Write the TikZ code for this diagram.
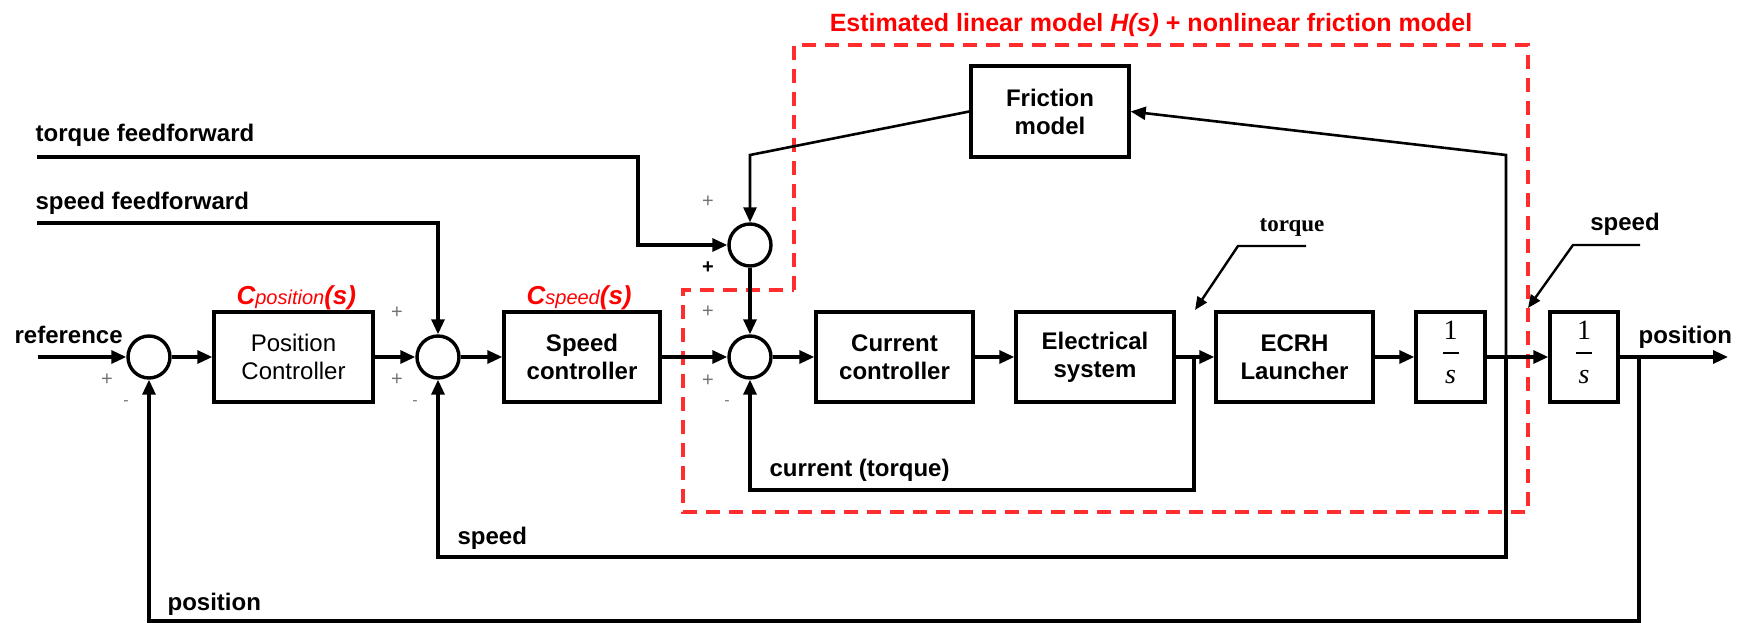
\documentclass[tikz,border=0pt]{standalone}
\usepackage{fontspec}
\setmainfont{Liberation Sans}
\newfontfamily\serifface{Liberation Serif}
\usetikzlibrary{arrows.meta,calc}
\definecolor{dashred}{RGB}{255,45,45}
\begin{document}
\begin{tikzpicture}[x=1pt,y=-1pt,
  line width=3.2pt,
  every node/.style={inner sep=0pt},
  arr/.style={-{Triangle[length=15pt,width=13pt]}},
  thinarr/.style={line width=2.6pt,-{Triangle[length=15pt,width=13pt]}},
  blk/.style={draw,line width=3.4pt,minimum height=90pt,align=center,font=\fontsize{24}{28}\selectfont\bfseries},
  sum/.style={draw,circle,line width=3.4pt,minimum size=42pt},
  lab/.style={anchor=base west,font=\fontsize{24}{28}\selectfont\bfseries},
  sgn/.style={font=\fontsize{20}{20}\selectfont,text=black!55},
  dsgn/.style={font=\fontsize{20}{20}\selectfont\bfseries,text=black},
  minus/.style={font=\fontsize{16}{16}\selectfont,text=black!55},
  fracnum/.style={font=\serifface\fontsize{28}{28}\selectfont},
  fracden/.style={font=\serifface\itshape\fontsize{28}{28}\selectfont},
  leader/.style={line width=2.4pt,-{Triangle[length=13pt,width=11pt]}},
  ]
\path[fill=white,use as bounding box] (0,0) rectangle (1740,623);

% red estimated-model region
\draw[dashred,line width=3.6pt,dash pattern=on 14pt off 9pt]
  (794,290) -- (794,45) -- (1528,45) -- (1528,512) -- (683,512) -- (683,290) -- cycle;
\node[anchor=base,text=red,font=\fontsize{25}{25}\selectfont\bfseries] (title) at (1151,32)
  {Estimated linear model \textit{H(s)} + nonlinear friction model};

% summing junctions
\node[sum] (S1) at (149,357) {};
\node[sum] (S2) at (438,357) {};
\node[sum] (S3) at (750,245) {};
\node[sum] (S4) at (750,357) {};

% blocks
\node[blk,minimum width=159pt,font=\fontsize{24}{28}\selectfont] (pc) at (293.5,357) {Position\\Controller};
\node[blk,minimum width=156pt] (sc) at (582,357) {Speed\\controller};
\node[blk,minimum width=157pt] (cc) at (894.5,357) {Current\\controller};
\node[blk,minimum width=158pt] (es) at (1095,357) {Electrical\\system};
\node[blk,minimum width=157pt] (ecrh) at (1294.5,357) {ECRH\\Launcher};
\node[blk,minimum width=69pt] (i1) at (1450.5,357) {};
\node[blk,minimum width=68pt] (i2) at (1584,357) {};
\node[blk,minimum width=158pt,minimum height=91pt] (fric) at (1050,111.5) {Friction\\model};

% integrator contents 1/s
\foreach \n in {i1,i2}{
  \node[fracnum] (\n num) at ($(\n)+(0,-27)$) {1};
  \draw[line width=2.2pt] ($(\n)+(-8,-4)$) -- ($(\n)+(8,-4)$);
  \node[fracden] (\n den) at ($(\n)+(0,20)$) {s};
}

% controller labels
\node[anchor=base west,text=red] (cpos) at (235,304)
  {\fontsize{26}{26}\selectfont\bfseries\itshape C\fontsize{20}{20}\selectfont\mdseries position\fontsize{26}{26}\selectfont\bfseries(s)};
\node[anchor=base west,text=red] (cspd) at (525,304)
  {\fontsize{26}{26}\selectfont\bfseries\itshape C\fontsize{20}{20}\selectfont\mdseries speed\fontsize{26}{26}\selectfont\bfseries(s)};

% coordinates for free ends and bends
\coordinate (refin) at (38,357);
\coordinate (tffin) at (37,157);
\coordinate (sffin) at (37,223);
\coordinate (tk) at (638,245);
\coordinate (fc) at (750,155);
\coordinate (b1) at (1194,357);
\coordinate (b1d) at (1194,490);
\coordinate (b2) at (1506,357);
\coordinate (b2u) at (1506,155);
\coordinate (b2d) at (1506,557);
\coordinate (b3) at (1639,357);
\coordinate (b3d) at (1639,621);
\coordinate (out) at (1728,357);

% connectors
\draw[arr] (refin) -- (S1);
\draw[arr] (S1) -- (pc);
\draw[arr] (pc) -- (S2);
\draw[arr] (sffin) -| (S2);
\draw[arr] (tffin) -| (tk) -- (S3);
\draw[thinarr] (fric.west) -- (fc) -- (S3);
\draw[arr] (S3) -- (S4);
\draw[arr] (S2) -- (sc);
\draw[arr] (sc) -- (S4);
\draw[arr] (S4) -- (cc);
\draw[arr] (cc) -- (es);
\draw[arr] (es) -- (ecrh);
\draw[arr] (b1) -- (b1d) -| (S4);
\draw[arr] (ecrh) -- (i1);
\draw[arr] (i1) -- (i2);
\draw[thinarr] (b2) -- (b2u) -- (fric.east);
\draw[arr] (b2) -- (b2d) -| (S2);
\draw[arr] (i2) -- (out);
\draw[arr] (b3) -- (b3d) -| (S1);

% signal labels
\node[lab] (ltff) at (34,142) {torque feedforward};
\node[lab] (lsff) at (34,209) {speed feedforward};
\node[lab] (lref) at (13,343) {reference};
\node[lab] (lpos) at (1637,343) {position};
\node[lab] (lspd) at (456,544) {speed};
\node[lab] (lpos2) at (166,610) {position};
\node[lab] (lcur) at (768,476) {current (torque)};
\node[lab,anchor=base] (lspd2) at (1625,230) {speed};
\node[anchor=base,font=\serifface\bfseries\fontsize{23}{23}\selectfont] (ltq) at (1292,231) {torque};

% leaders
\coordinate (tq1) at (1306,246);
\coordinate (tq2) at (1238,246);
\coordinate (tq3) at (1195,310);
\draw[leader] (tq1) -- (tq2) -- (tq3);
\coordinate (sp1) at (1640,245);
\coordinate (sp2) at (1573,245);
\coordinate (sp3) at (1528,308);
\draw[leader] (sp1) -- (sp2) -- (sp3);

% signs
\node[sgn] (p1) at (107,380) {+};
\node[minus] (m1) at (126,403) {-};
\node[sgn] (p2a) at (397,313) {+};
\node[sgn] (p2b) at (397,380) {+};
\node[minus] (m2) at (415,403) {-};
\node[sgn] (p3a) at (708,202) {+};
\node[dsgn] (p3b) at (708,268) {+};
\node[sgn] (p4a) at (708,312) {+};
\node[sgn] (p4b) at (708,381) {+};
\node[minus] (m4) at (727,403) {-};
\end{tikzpicture}
\end{document}
